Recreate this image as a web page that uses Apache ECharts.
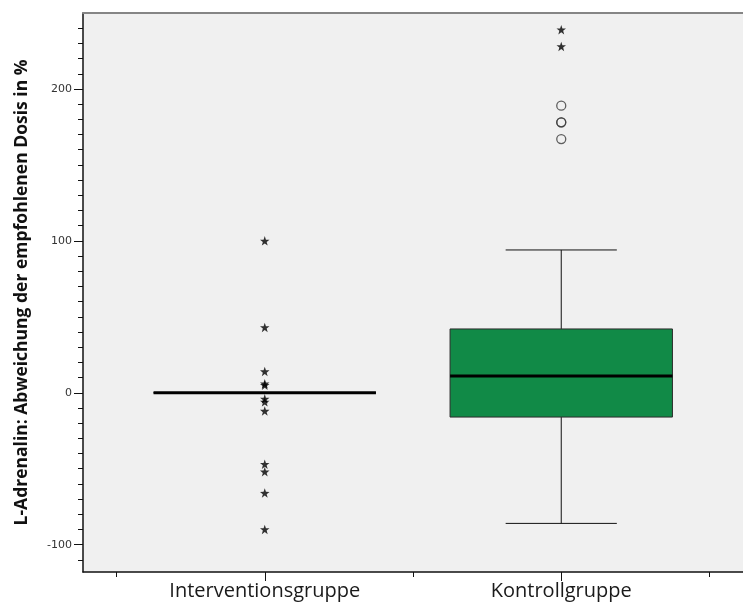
<!DOCTYPE html>
<html>
<head>
<meta charset="utf-8">
<style>
  html, body { margin: 0; padding: 0; background: #ffffff; }
  #chart { width: 743px; height: 606px; }
</style>
<script src="https://cdn.jsdelivr.net/npm/echarts@6/dist/echarts.min.js"></script>
</head>
<body>
<div id="chart"></div>
<script>
// Groups on the x axis (placed at x = 1 and x = 2)
const groups = ['Interventionsgruppe', 'Kontrollgruppe'];

// Five-number summaries per group: [min, Q1, median, Q3, max]
const interventionBox = [0, 0, 0, 0, 0];
const kontrollBox = [-86, -16, 11, 42, 94];

// Extreme values (drawn as stars)
const interventionExtremes = [100, 43, 14, 6, 5, -4, -6, -12, -47, -52, -66, -90];
const kontrollExtremes = [239, 228];

// Outliers (drawn as open circles)
const kontrollOutliers = [189, 178, 178, 167];

// Y axis: labelled ticks and the small ticks between them
const yLabelTicks = [-100, 0, 100, 200];
const yMinorTicks = [-110, -90, -80, -70, -60, -50, -40, -30, -20, -10,
  10, 20, 30, 40, 50, 60, 70, 80, 90,
  110, 120, 130, 140, 150, 160, 170, 180, 190,
  210, 220, 230, 240];

// X axis: group ticks and the ticks between groups
const xGroupTicks = [1, 2];
const xBetweenTicks = [0.5, 1.5, 2.5];

const Y_MIN = -118, Y_MAX = 250;
const X_MIN = 0.387, X_MAX = 2.613;
const BOX_WIDTH = 0.75;   // in x-axis units
const BOX_FILL = '#118a47';

const STAR = 'path://M0,-10 L2.35,-3.24 L9.51,-3.09 L3.8,1.24 L5.88,8.09 L0,4 L-5.88,8.09 L-3.8,1.24 L-9.51,-3.09 L-2.35,-3.24 Z';

const boxData = [
  [1].concat(interventionBox),
  [2].concat(kontrollBox)
];

function renderBox(params, api) {
  const x = api.value(0);
  const lo = api.coord([x, api.value(1)]);
  const q1 = api.coord([x, api.value(2)]);
  const med = api.coord([x, api.value(3)]);
  const q3 = api.coord([x, api.value(4)]);
  const hi = api.coord([x, api.value(5)]);
  const w = api.size([BOX_WIDTH, 0])[0];
  const cap = w / 2;
  const cx = lo[0];
  const lineStyle = { stroke: '#111', lineWidth: 1 };
  return {
    type: 'group',
    children: [
      { type: 'line', shape: { x1: cx, y1: hi[1], x2: cx, y2: q3[1] }, style: lineStyle },
      { type: 'line', shape: { x1: cx, y1: q1[1], x2: cx, y2: lo[1] }, style: lineStyle },
      { type: 'line', shape: { x1: cx - cap / 2, y1: hi[1], x2: cx + cap / 2, y2: hi[1] }, style: lineStyle },
      { type: 'line', shape: { x1: cx - cap / 2, y1: lo[1], x2: cx + cap / 2, y2: lo[1] }, style: lineStyle },
      {
        type: 'rect',
        shape: { x: cx - w / 2, y: q3[1], width: w, height: q1[1] - q3[1] },
        style: { fill: BOX_FILL, stroke: '#2a2a2a', lineWidth: 1 }
      },
      { type: 'line', shape: { x1: cx - w / 2, y1: med[1], x2: cx + w / 2, y2: med[1] },
        style: { stroke: '#000', lineWidth: 3 } }
    ]
  };
}

const chart = echarts.init(document.getElementById('chart'), null, { renderer: 'canvas' });

const xBase = { type: 'value', min: X_MIN, max: X_MAX, splitLine: { show: false } };
const yBase = { type: 'value', min: Y_MIN, max: Y_MAX, position: 'left', splitLine: { show: false } };

chart.setOption({
  animation: false,
  backgroundColor: '#ffffff',
  grid: {
    left: 83, top: 13, right: 0, bottom: 34,
    show: true, backgroundColor: '#f0f0f0', borderWidth: 0
  },
  xAxis: [
    Object.assign({}, xBase, {
      position: 'bottom',
      axisLine: { show: true, onZero: false, lineStyle: { color: '#111', width: 1.5 } },
      axisTick: { show: true, customValues: xGroupTicks, length: 9, lineStyle: { color: '#111' } },
      axisLabel: {
        show: true, customValues: xGroupTicks, margin: 9,
        fontFamily: 'Open Sans', fontSize: 20, color: '#1a1a1a',
        formatter: function (v) { return groups[Math.round(v) - 1]; }
      }
    }),
    Object.assign({}, xBase, {
      position: 'bottom',
      axisLine: { show: true, onZero: false, lineStyle: { color: 'rgba(0,0,0,0)', width: 1 } },
      axisTick: { show: true, customValues: xBetweenTicks, length: 5, lineStyle: { color: '#111' } },
      axisLabel: { show: false }
    }),
    Object.assign({}, xBase, {
      position: 'top',
      axisLine: { show: true, onZero: false, lineStyle: { color: '#858585', width: 2 } },
      axisTick: { show: false },
      axisLabel: { show: false }
    })
  ],
  yAxis: [
    Object.assign({}, yBase, {
      axisLine: { show: true, onZero: false, lineStyle: { color: '#111', width: 1.5 } },
      axisTick: { show: true, customValues: yLabelTicks, length: 9, lineStyle: { color: '#111' } },
      axisLabel: {
        show: true, customValues: yLabelTicks, margin: 11,
        fontFamily: 'DejaVu Sans', fontSize: 11, color: '#333'
      },
      name: 'L-Adrenalin: Abweichung der empfohlenen Dosis in %',
      nameLocation: 'middle',
      nameGap: 52,
      nameTextStyle: { fontFamily: 'Open Sans', fontWeight: 'bold', fontSize: 17.5, color: '#111' }
    }),
    Object.assign({}, yBase, {
      axisLine: { show: true, onZero: false, lineStyle: { color: 'rgba(0,0,0,0)', width: 1 } },
      axisTick: { show: true, customValues: yMinorTicks, length: 5, lineStyle: { color: '#111' } },
      axisLabel: { show: false }
    })
  ],
  series: [
    {
      type: 'custom',
      name: 'box',
      xAxisIndex: 0, yAxisIndex: 0,
      renderItem: renderBox,
      encode: { x: 0, y: [1, 2, 3, 4, 5] },
      data: boxData,
      z: 2
    },
    {
      type: 'scatter',
      name: 'extremes',
      xAxisIndex: 0, yAxisIndex: 0,
      symbol: STAR,
      symbolSize: 9.5,
      itemStyle: { color: '#000' },
      data: interventionExtremes.map(v => [1, v]).concat(kontrollExtremes.map(v => [2, v])),
      z: 3
    },
    {
      type: 'scatter',
      name: 'outliers',
      xAxisIndex: 0, yAxisIndex: 0,
      symbol: 'circle',
      symbolSize: 9,
      itemStyle: { color: 'rgba(0,0,0,0)', borderColor: '#3a3a3a', borderWidth: 1.3 },
      data: kontrollOutliers.map(v => [2, v]),
      z: 3
    }
  ]
});
</script>
</body>
</html>
